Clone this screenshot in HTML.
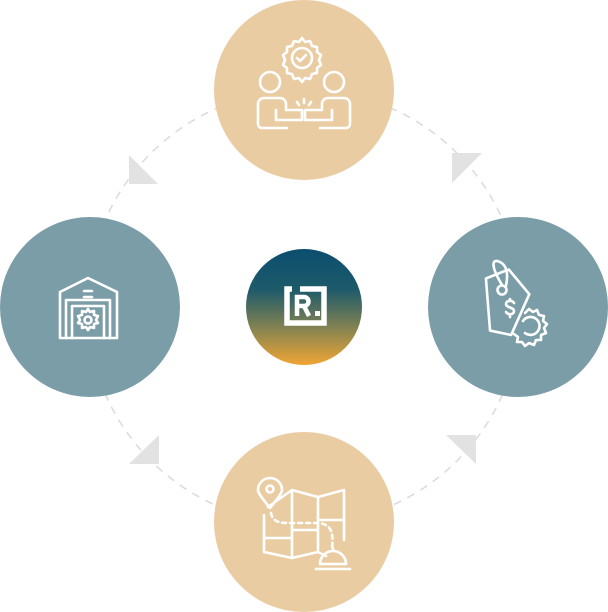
<!DOCTYPE html>
<html><head><style>html,body{margin:0;padding:0;background:#fff;}svg{display:block}</style></head>
<body>
<svg width="608" height="612" viewBox="0 0 608 612" xmlns="http://www.w3.org/2000/svg">
<defs>
<linearGradient id="g" x1="0" y1="0" x2="0" y2="1">
<stop offset="0" stop-color="#0b4e6f"/><stop offset="0.35" stop-color="#1d5a6a"/>
<stop offset="0.7" stop-color="#8a8550"/><stop offset="1" stop-color="#f0a535"/>
</linearGradient>
</defs>
<circle cx="304" cy="307" r="217" fill="none" stroke="#dcdcdc" stroke-width="1.6" stroke-dasharray="8 7"/>
<g fill="#e2e2e2">
<polygon points="129,155 129,184 158,184"/>
<polygon points="452,153 482,153 452,183"/>
<polygon points="446,435 476,435 476,464"/>
<polygon points="159,435 159,464 129,464"/>
</g>
<circle cx="304" cy="90" r="90" fill="#eacca2"/>
<circle cx="304" cy="522" r="90" fill="#eacca2"/>
<circle cx="90" cy="307" r="90" fill="#7b9da8"/>
<circle cx="518" cy="307" r="90" fill="#7b9da8"/>
<circle cx="304" cy="307" r="58" fill="url(#g)"/>
<g fill="none" stroke="#fff" stroke-width="3" stroke-linejoin="round" stroke-linecap="round">
<!-- center logo -->
<path d="M300 289 H324 V323 H287 V289 H292" stroke-width="5.5" stroke-linecap="butt" stroke-linejoin="miter"/>
<path d="M297 316 V297 H304 a4.5 4.5 0 0 1 0 9 H297 M304 306 L309 316" stroke-width="4.5" stroke-linecap="butt" stroke-linejoin="miter"/>
<rect x="315" y="311" width="5" height="5" fill="#fff" stroke="none"/>
<!-- top icon -->
<g stroke-width="2.6">
<path d="M302 38 l3 4 5 -1 2 5 5 1 0 5 4 3 -2 5 2 5 -4 3 0 5 -5 1 -2 5 -5 -1 -3 4 -3 -4 -5 1 -2 -5 -5 -1 0 -5 -4 -3 2 -5 -2 -5 4 -3 0 -5 5 -1 2 -5 5 1 z"/>
<circle cx="302" cy="58" r="10"/>
<path d="M297 58 l3 3 6 -6"/>
<circle cx="270" cy="82" r="10"/><circle cx="334" cy="82" r="10"/>
<path d="M287 128 H262 a4 4 0 0 1 -4 -4 V104 a6 6 0 0 1 6 -6 H280 a6 6 0 0 1 6 6 V110 H302 V120 H276 V110"/>
<path d="M320 128 H346 a4 4 0 0 0 4 -4 V104 a6 6 0 0 0 -6 -6 H328 a6 6 0 0 0 -6 6 V110 H305 V120 H332 V110"/>
<path d="M297 102 l2 3 M304 99 v4 M311 102 l-2 3"/>
</g>
<!-- right icon -->
<g stroke-width="2.6">
<path d="M490 275 L514 270 L530 298 L505 335 L485 327 Z" transform="rotate(-10 508 300)"/>
<circle cx="502" cy="290" r="4.5"/>
<path d="M502 285 C490 265 492 258 500 262 C508 266 508 276 506 286"/>
<path d="M514 303 c-2 -3 -8 -3 -8 1 c0 4 8 3 8 7 c0 4 -6 4 -8 1 M510 299 v2 M510 315 v2"/>
<path d="M525 313 l4 -4 4 3 4 -2 2 5 5 1 -1 5 4 3 -3 4 2 5 -5 2 0 5 -5 0 -2 5 -5 -2 -4 3 -3 -4 -5 0 1 -5 -4 -3"/>
<path d="M525 333 a9 9 0 1 0 -2 -12"/>
</g>
<!-- bottom icon -->
<g stroke-width="2.6">
<path d="M268 507 L292 490 L318 497 L344 490 V540 M326 556 L318 552 L292 558 L264 552 V515"/>
<path d="M292 490 V558 M318 497 V550 M264 538 H292 M292 530 H318 M318 520 H344"/>
<path d="M270 508 C262 498 258 493 258 490 a12 12 0 0 1 24 0 c0 3 -4 8 -12 18 z"/>
<circle cx="270" cy="489" r="3.5"/>
<path d="M271 513 c2 10 10 10 20 10 h25 c14 0 18 8 16 24" stroke-dasharray="4 4"/>
<path d="M320 564 a13 13 0 0 1 26 0 Z M316 569 H350 M333 551 v-3"/>
</g>
<!-- left icon -->
<g stroke-width="2.6">
<path d="M60 338 V292 L88 278 L117 292 V338 Z"/>
<path d="M66 338 V300 H110 V338 M72 338 V306 H104 V338"/>
<path d="M84 291 h8 M84 297 h8"/>
<path d="M88 309 l2 3 4 -1 0 4 4 1 -2 4 2 3 -4 1 0 4 -4 -1 -2 3 -2 -3 -4 1 0 -4 -4 -1 2 -3 -2 -4 4 -1 0 -4 4 1 z"/>
<circle cx="88" cy="320" r="3.5"/>
</g>
</g>
</svg>
</body></html>
